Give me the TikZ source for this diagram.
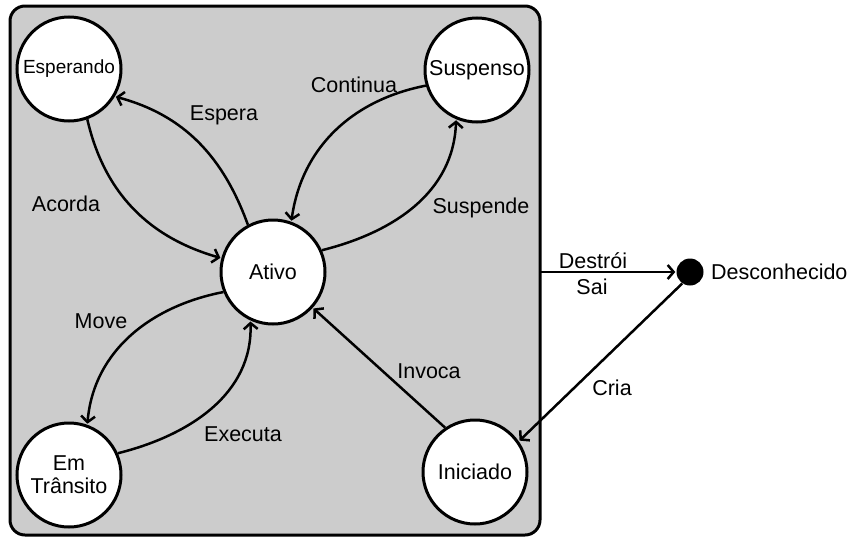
\documentclass[tikz,border=0pt]{standalone}
\usepackage{fontspec}
\setmainfont{Liberation Sans}
\usetikzlibrary{arrows.meta}
\definecolor{boxgray}{HTML}{CCCCCC}
\begin{document}
\begin{tikzpicture}[x=1pt,y=1pt,
  state/.style={circle,draw=black,fill=white,line width=3pt,minimum size=104pt,inner sep=0pt,
    font=\fontsize{21.5}{24}\selectfont,align=center},
  arr/.style={line width=2.5pt,shorten >=1pt,-{Straight Barb[length=6pt,width=14pt]}},
  lbl/.style={font=\fontsize{21.5}{24}\selectfont,inner sep=0pt}]
\useasboundingbox (0,0) rectangle (850,-538);
\draw[line width=3pt,fill=boxgray,rounded corners=15pt] (10,-6) rectangle (540,-535);

\node[state,font=\fontsize{19}{22}\selectfont] (esp) at (69,-69) {Esperando};
\node[state] (sus) at (477,-70) {Suspenso};
\node[state] (ati) at (273,-272) {Ativo};
\node[state] (tra) at (69,-475) {Em\\[-1pt]Trânsito};
\node[state] (ini) at (475,-472) {Iniciado};
\node[circle,fill=black,minimum size=27pt,inner sep=0pt] (des) at (690,-272) {};
\node[lbl,anchor=west] (destxt) at (711,-272) {Desconhecido};
\coordinate (exit) at (540,-272);

\draw[arr] (ati.118) to[out=110,in=-15] (esp.-31);
\draw[arr] (esp.-70) to[out=-77,in=164] (ati.165);
\draw[arr] (sus.-163) to[out=191,in=82] (ati.70);
\draw[arr] (ati.24) to[out=14,in=-92] (sus.-113);
\draw[arr] (ati.202) to[out=191,in=85] (tra.70);
\draw[arr] (tra.24) to[out=14,in=-88] (ati.-115);
\draw[arr] (ini.124) -- (ati.-42);
\draw[arr] (exit) -- (des);
\draw[arr] (des.236) -- (ini.35);

\node[lbl] (lespera) at (224,-115) {Espera};
\node[lbl] (lacorda) at (66,-204) {Acorda};
\node[lbl] (lcont) at (354,-85) {Continua};
\node[lbl] (lsusp) at (481,-208) {Suspende};
\node[lbl] (lmove) at (101,-321) {Move};
\node[lbl] (lexec) at (243,-434) {Executa};
\node[lbl] (linv) at (429,-371) {Invoca};
\node[lbl] (ldest) at (593,-261) {Destrói};
\node[lbl] (lsai) at (592,-287) {Sai};
\node[lbl] (lcria) at (612,-388) {Cria};
\end{tikzpicture}
\end{document}
